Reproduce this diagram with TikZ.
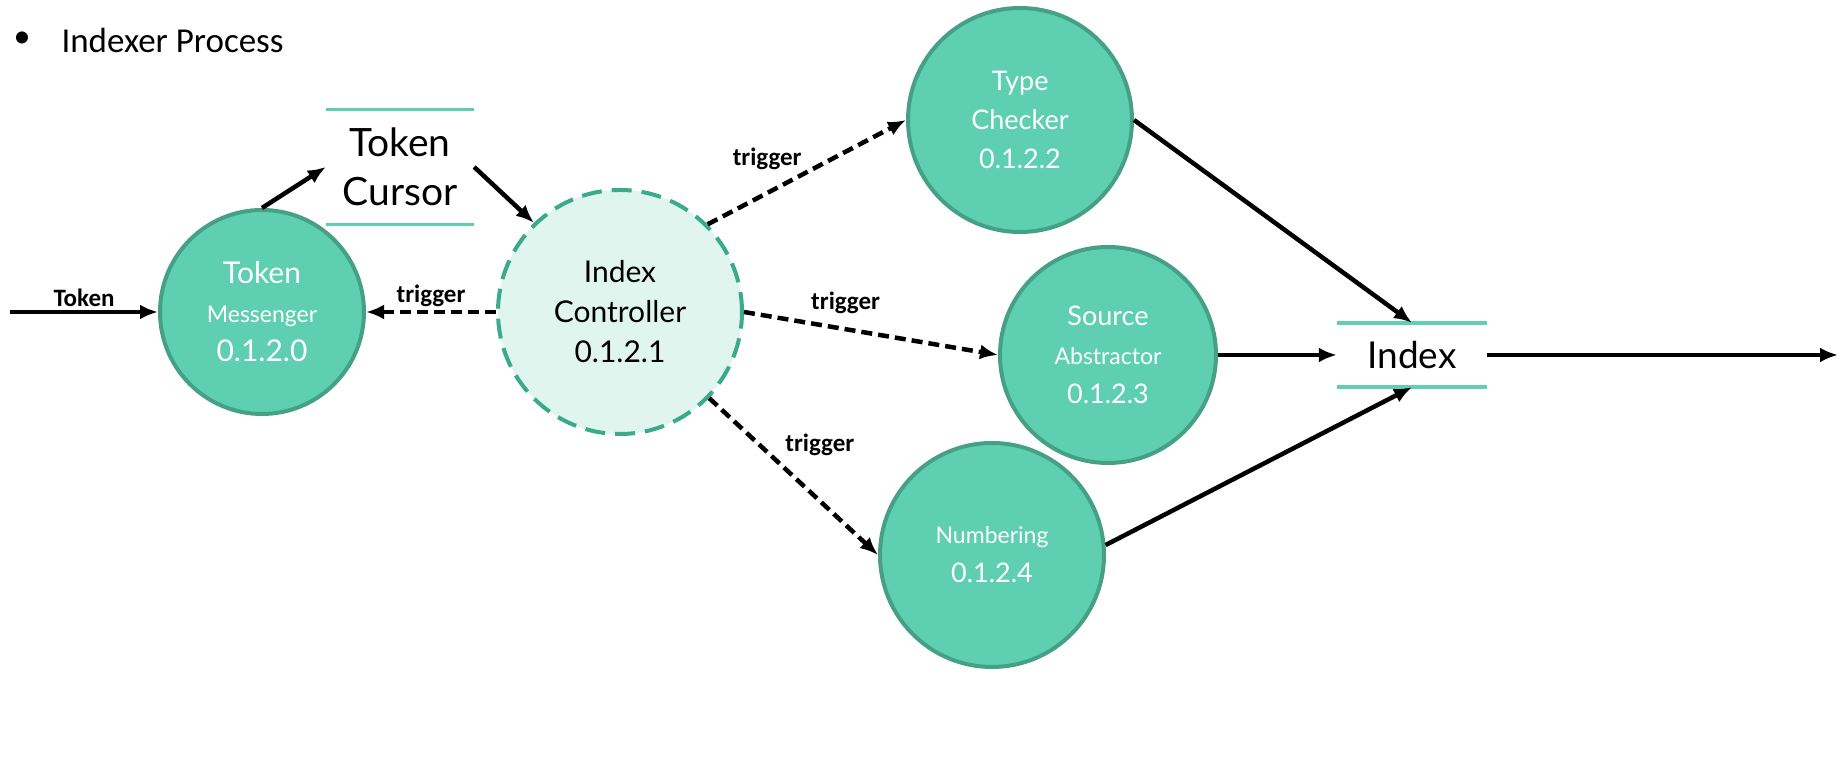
\documentclass[tikz,border=0pt]{standalone}
\usepackage{fontspec}
\setmainfont{Carlito}
\newfontfamily\circfont{Lato}
\usetikzlibrary{arrows.meta}

\definecolor{verde}{HTML}{5ECFB1}
\definecolor{borde}{HTML}{45A086}
\definecolor{menta}{HTML}{DFF5EE}
\definecolor{rayo}{HTML}{3AAA8A}

\begin{document}
\begin{tikzpicture}[x=1pt,y=1pt]
        \useasboundingbox (0,0) rectangle (1840,783);

            % Стили:
            \tikzstyle{proceso}=[circle, draw=borde, line width=4pt, fill=verde,
            text=white, align=center, inner sep=0pt,
            font=\circfont\fontsize{27}{39}\selectfont]
            \tikzstyle{control} = [proceso, draw=rayo, fill=menta, text=black,
            dash pattern=on 20pt off 10pt, font=\circfont\fontsize{30}{40}\selectfont]
            \tikzstyle{almacen} = [align=center, inner sep=0pt]
            \tikzstyle{almlinea} = [draw=verde, line width=3.5pt]
            \tikzstyle{line} = [draw, line width=4.5pt, -{Latex[length=18pt,width=15pt]}]
            \tikzstyle{linepart} = [line, dash pattern=on 11pt off 6pt]
            \tikzstyle{etiqueta}=[font=\bfseries\fontsize{25}{28}\selectfont]

            \newcommand{\chico}{\fontsize{23}{39}\selectfont}
            \newcommand{\grande}{\fontsize{30}{39}\selectfont}
            \newcommand{\proceso}[3]{node (p#1) [proceso,#3] {#2}}

            % Хранилище:
            \newcommand{\almacen}[1]{%
            \path [almlinea] (#1.north west) -- (#1.north east);
            \path [almlinea] (#1.south west) -- (#1.south east);}

            % Заголовок:
            \node (vineta) at (22,743) {\fontsize{34}{40}\selectfont •};
            \node (titulo) [right] at (58,743) {\fontsize{35}{40}\selectfont Indexer Process};

            % Круги:
            \path (620,471) \proceso{ctl}{Index\\Controller\\0.1.2.1}{control,minimum size=244pt};
            \path (pctl.center)+(-358,0) \proceso{mes}{{\grande Token}\\{\chico Messenger}\\{\grande 0.1.2.0}}{minimum size=204pt};
            \path (pctl.center)+(400,192) \proceso{tc}{Type\\Checker\\0.1.2.2}{minimum size=224pt};
            \path (pctl.center)+(488,-43) \proceso{src}{Source\\{\chico Abstractor}\\0.1.2.3}{minimum size=216pt};
            \path (pctl.center)+(372,-243) \proceso{num}{{\chico Numbering}\\0.1.2.4}{minimum size=224pt};

            \path (pmes.center)+(138,145) node (acur) [almacen,minimum width=148pt,
            minimum height=115pt,font=\circfont\fontsize{39}{49}\selectfont] {Token\\Cursor};
            \path (psrc.center)+(304,0) node (aidx) [almacen,minimum width=150pt,
            minimum height=64pt,font=\circfont\fontsize{37}{40}\selectfont] {Index};
            \almacen{acur}
            \almacen{aidx}

            \coordinate (entrada) at (10,471);
            \coordinate (salida) at (1838,428);

            % Стрелки:
            \path [line] (entrada) -- node [etiqueta,above] {Token} (pmes.west);
            \path [line] (pmes.north) -- (acur.west);
            \path [line] (acur.east) -- (pctl.134);
            \path [linepart] (pctl.west) -- node [etiqueta,above] {trigger} (pmes.east);
            \path [linepart] (pctl.45) -- node [etiqueta,pos=0.3,above=18pt] {trigger} (ptc.west);
            \path [linepart] (pctl.east) -- node [etiqueta,pos=0.4,above=10pt] {trigger} (psrc.west);
            \path [linepart] (pctl.-44) -- node [etiqueta,pos=0.3,right=20pt] {trigger} (pnum.west);

            \path [line] (ptc.east) -- (aidx.north);
            \path [line] (psrc.east) -- (aidx.west);
            \path [line] (pnum.5) -- (aidx.south);
            \path [line] (aidx.east) -- (salida);
        \end{tikzpicture}
\end{document}
